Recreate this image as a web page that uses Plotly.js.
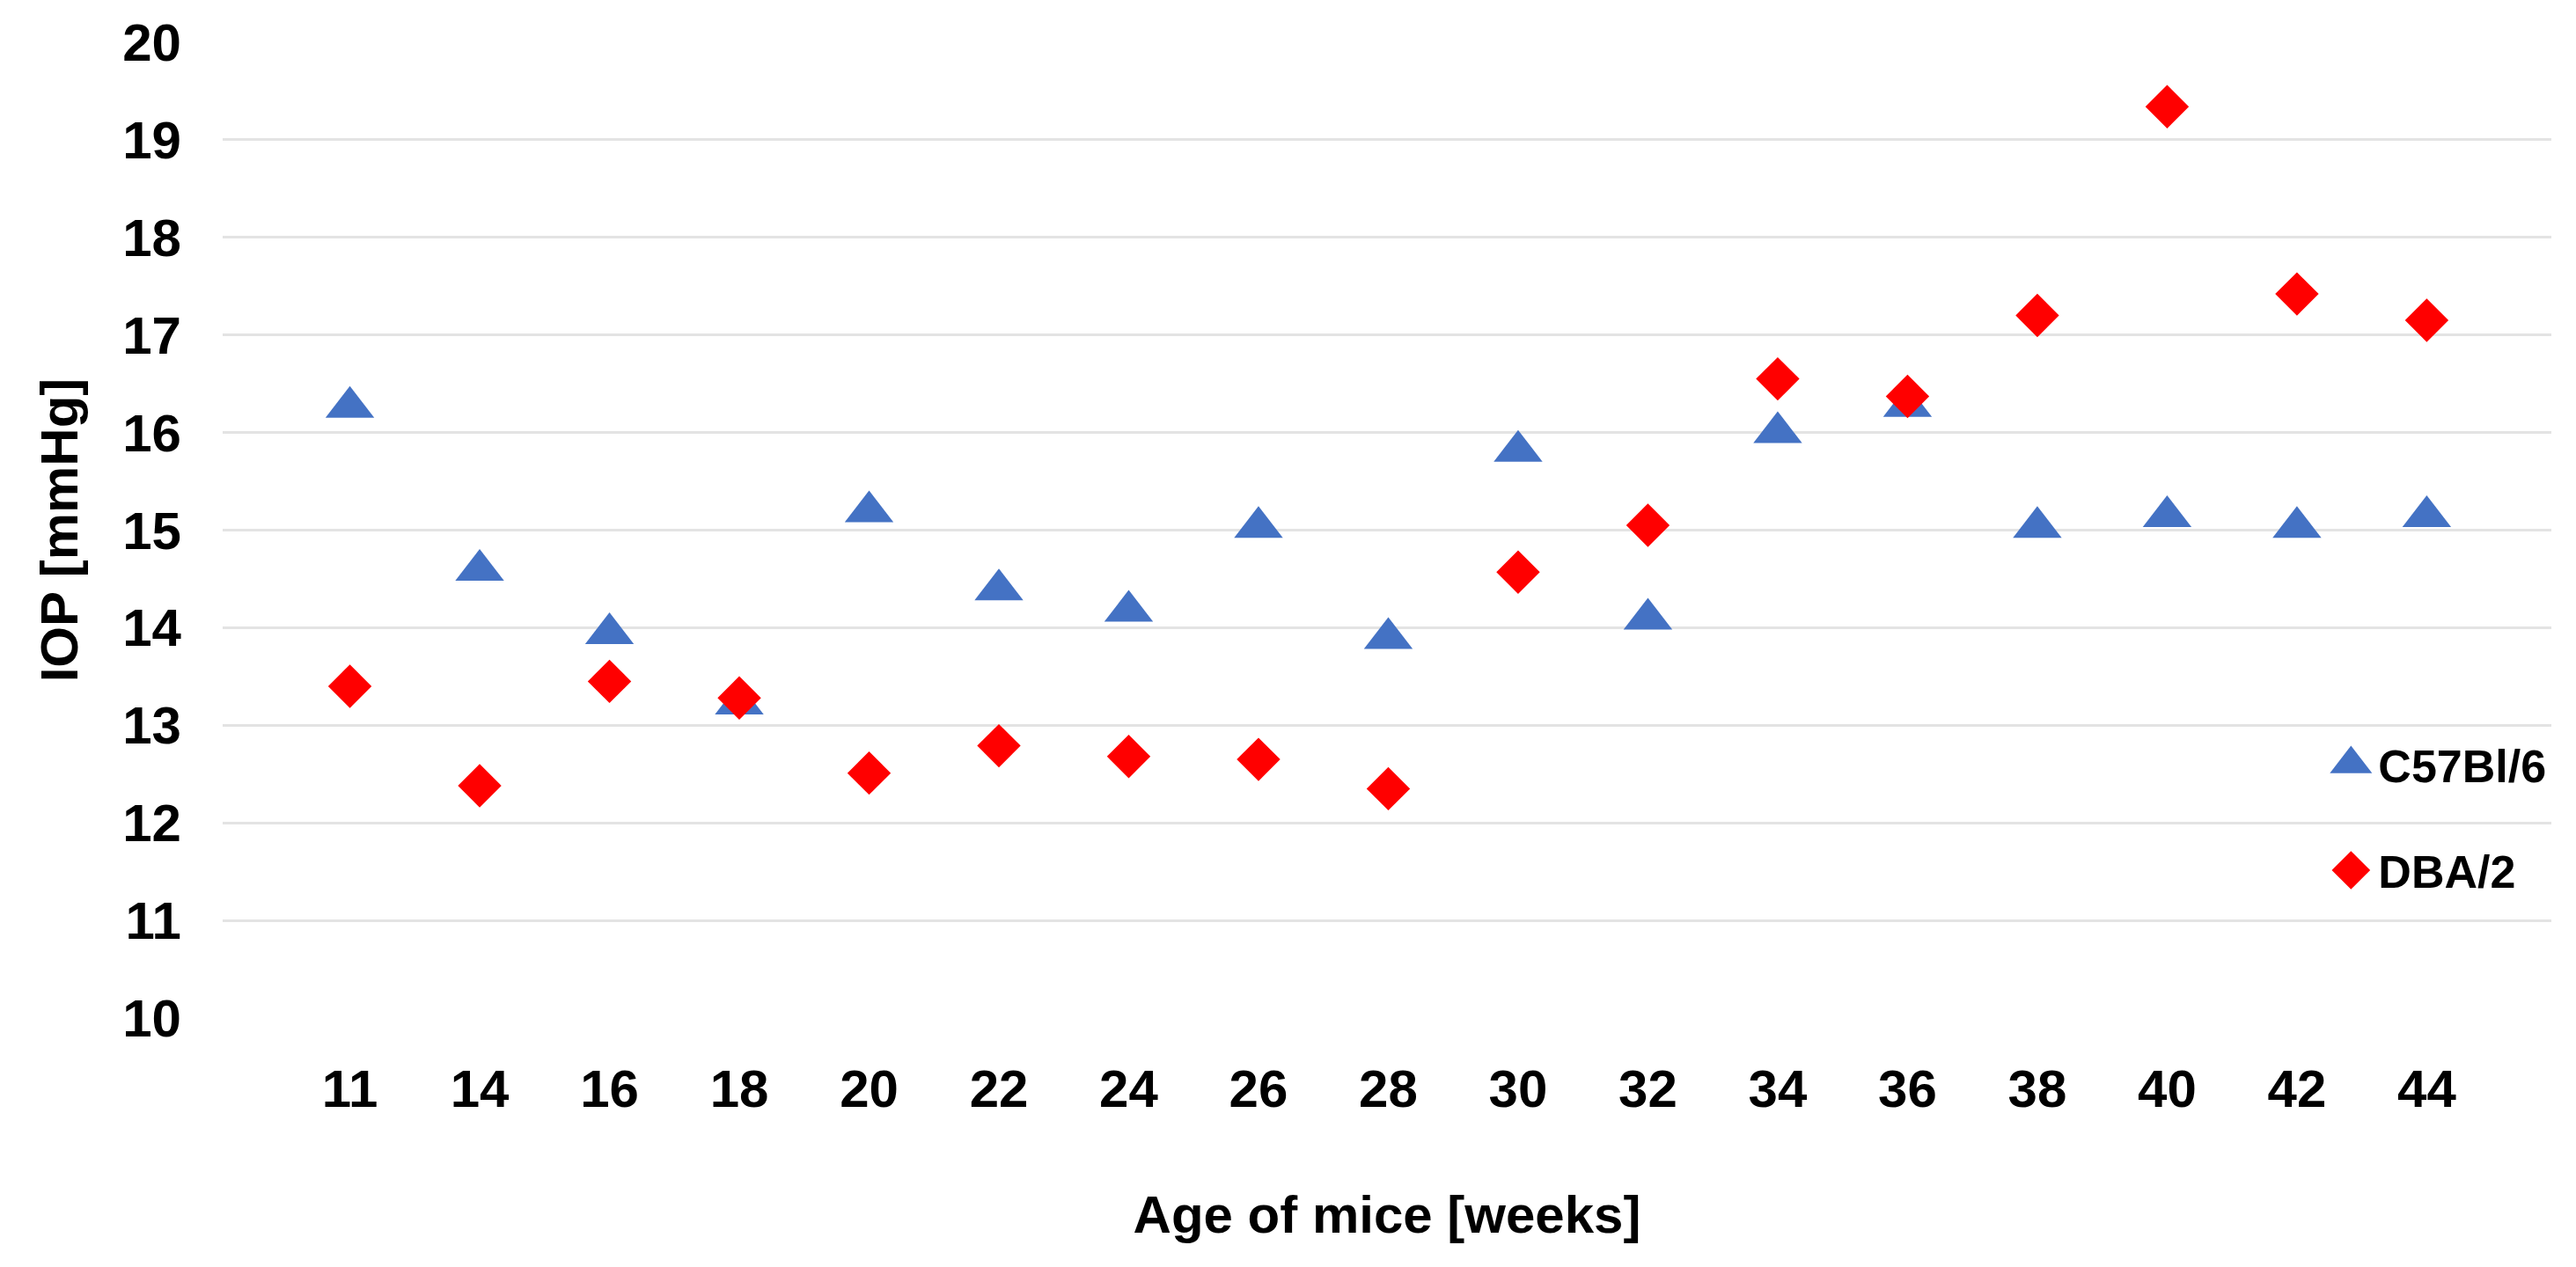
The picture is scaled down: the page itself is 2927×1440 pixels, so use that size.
<!DOCTYPE html>
<html>
<head>
<meta charset="utf-8">
<script src="https://cdn.plot.ly/plotly-3.0.1.min.js"></script>
<style>
html, body { margin: 0; padding: 0; background: #ffffff; }
#chart { width: 2927px; height: 1440px; }
</style>
</head>
<body>
<div id="chart"></div>
<script>
// Data
const ages = ['11','14','16','18','20','22','24','26','28','30','32','34','36','38','40','42','44'];
const c57Values = [16.26,14.59,13.94,13.22,15.19,14.39,14.17,15.03,13.89,15.81,14.09,16.00,16.27,15.03,15.14,15.03,15.14];
const dbaValues = [13.40,12.38,13.45,13.28,12.51,12.79,12.68,12.65,12.35,14.57,15.05,16.55,16.37,17.20,19.34,17.42,17.15];
const seriesNames = ['C57Bl/6', 'DBA/2'];
const yTickValues = [10,11,12,13,14,15,16,17,18,19,20];

const FONT = '"Liberation Sans", Arial, Helvetica, sans-serif';

const data = [
  {
    type: 'scatter', mode: 'markers', name: seriesNames[0], legendgroup: 'g1',
    x: ages, y: c57Values,
    marker: { symbol: 'triangle-up', size: 48, color: '#4472C4', line: { width: 0 } }
  },
  {
    type: 'scatter', mode: 'markers', name: seriesNames[1], legendgroup: 'g2',
    x: ages, y: dbaValues,
    marker: { symbol: 'diamond', size: 38, color: '#FF0000', line: { width: 0 } }
  }
];

const layout = {
  width: 2927, height: 1440,
  margin: { l: 253, r: 28, t: 48, b: 283, autoexpand: false },
  paper_bgcolor: '#ffffff', plot_bgcolor: '#ffffff',
  font: { family: FONT, color: '#000000', size: 60, weight: 700 },
  showlegend: true,
  legend: {
    x: 0.903, xanchor: 'left', y: 0.2055, yanchor: 'middle',
    itemwidth: 50,
    font: { family: FONT, size: 52, color: '#000000', weight: 700 },
    bgcolor: 'rgba(0,0,0,0)', borderwidth: 0, tracegroupgap: 50
  },
  xaxis: {
    type: 'category', categoryorder: 'array', categoryarray: ages,
    range: [-0.98, 16.96],
    showgrid: false, zeroline: false, showline: false, ticks: '',
    ticklabelstandoff: 40,
    tickfont: { family: FONT, size: 60, color: '#000000', weight: 700 },
    title: { text: 'Age of mice [weeks]', standoff: 88,
             font: { family: FONT, size: 60, color: '#000000', weight: 700 } }
  },
  yaxis: {
    range: [10, 20], tickvals: yTickValues, ticktext: yTickValues.map(String),
    showgrid: true, gridcolor: '#e3e3e3', gridwidth: 3,
    zeroline: false, showline: false, ticks: '',
    ticklabelstandoff: 46,
    tickfont: { family: FONT, size: 60, color: '#000000', weight: 700 },
    title: { text: 'IOP [mmHg]', standoff: 31,
             font: { family: FONT, size: 60, color: '#000000', weight: 700 } }
  }
};

Plotly.newPlot('chart', data, layout, { staticPlot: true, displayModeBar: false }).then(function (gd) {
  // enlarge legend symbols to match the reference's large legend markers
  gd.querySelectorAll('.legend .traces').forEach(function (tr, i) {
    var scale = (i === 0) ? 2.6 : 2.1;
    tr.querySelectorAll('.legendpoints path').forEach(function (p) {
      p.setAttribute('transform', 'translate(29,0) scale(' + scale + ')');
    });
  });
});
</script>
</body>
</html>
